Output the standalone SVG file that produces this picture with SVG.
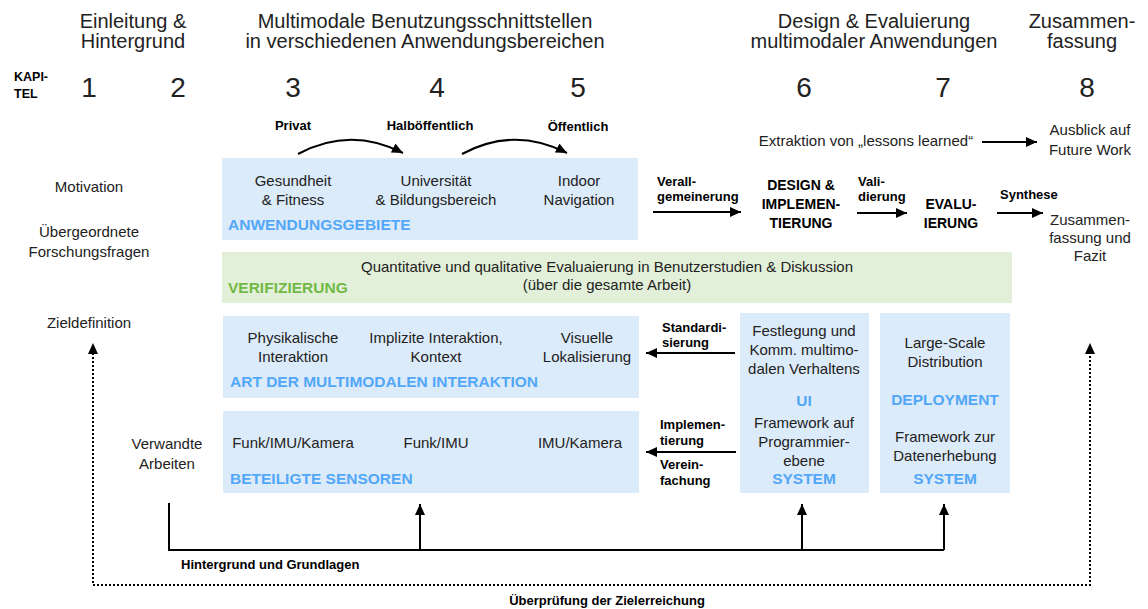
<svg xmlns="http://www.w3.org/2000/svg" width="1148" height="609" viewBox="0 0 1148 609">
<style>
text{font-family:"Liberation Sans",Arial,Helvetica,sans-serif;fill:#222}
.h{font-size:20px;text-anchor:middle}
.n{font-size:28px;text-anchor:middle}
.t{font-size:15px;text-anchor:middle}
.b{font-size:13px;font-weight:bold;fill:#000}
.bc{font-size:13px;font-weight:bold;fill:#000;text-anchor:middle}
.big{font-size:14px;font-weight:bold;fill:#000;text-anchor:middle}
.blue{font-size:15.5px;font-weight:bold;fill:#52a7f8}
.bluec{font-size:15.5px;font-weight:bold;fill:#52a7f8;text-anchor:middle}
.green{font-size:15.5px;font-weight:bold;fill:#72b845}
.box{fill:#dcebfa}
.gbox{fill:#e2f0d9}
.ln{stroke:#000;stroke-width:2;fill:none}
.dot{stroke:#000;stroke-width:2;fill:none;stroke-dasharray:2 2}
</style>
<defs>
<marker id="ah" markerUnits="userSpaceOnUse" markerWidth="11" markerHeight="10" refX="11" refY="5" orient="auto">
<path d="M0,0 L11,5 L0,10 z" fill="#000"/>
</marker>
</defs>

<g id="header">
<text class="h" x="133" y="28">Einleitung &amp;</text>
<text class="h" x="133" y="48">Hintergrund</text>
<text class="h" x="425" y="28">Multimodale Benutzungsschnittstellen</text>
<text class="h" x="425" y="48">in verschiedenen Anwendungsbereichen</text>
<text class="h" x="874" y="28">Design &amp; Evaluierung</text>
<text class="h" x="874" y="48">multimodaler Anwendungen</text>
<text class="h" x="1082" y="28">Zusammen-</text>
<text class="h" x="1082" y="48">fassung</text>
<text class="b" x="14" y="81" style="font-size:12.5px">KAPI-</text>
<text class="b" x="14" y="98" style="font-size:12.5px">TEL</text>
<text class="n" x="89" y="97">1</text>
<text class="n" x="178" y="97">2</text>
<text class="n" x="293" y="97">3</text>
<text class="n" x="437" y="97">4</text>
<text class="n" x="578" y="97">5</text>
<text class="n" x="804" y="97">6</text>
<text class="n" x="943" y="97">7</text>
<text class="n" x="1087" y="97">8</text>
</g>

<g id="left-labels">
<text class="t" x="89" y="192">Motivation</text>
<text class="t" x="89" y="237">Übergeordnete</text>
<text class="t" x="89" y="257">Forschungsfragen</text>
<text class="t" x="89" y="328">Zieldefinition</text>
<text class="t" x="167" y="449">Verwandte</text>
<text class="t" x="167" y="469">Arbeiten</text>
</g>

<g id="domain-labels">
<text class="bc" x="293" y="130">Privat</text>
<text class="bc" x="430" y="130">Halböffentlich</text>
<text class="bc" x="578" y="131">Öffentlich</text>
</g>

<g id="anwendungsgebiete">
<rect class="box" x="222" y="158" width="416" height="82"/>
<text class="t" x="293" y="186">Gesundheit</text>
<text class="t" x="293" y="205">&amp; Fitness</text>
<text class="t" x="436" y="186">Universität</text>
<text class="t" x="436" y="205">&amp; Bildungsbereich</text>
<text class="t" x="579" y="186">Indoor</text>
<text class="t" x="579" y="205">Navigation</text>
<text class="blue" x="228" y="230">ANWENDUNGSGEBIETE</text>
</g>

<g id="verifizierung">
<rect class="gbox" x="222" y="252" width="790" height="51"/>
<text class="t" x="607" y="272">Quantitative und qualitative Evaluaierung in Benutzerstudien &amp; Diskussion</text>
<text class="t" x="607" y="290">(über die gesamte Arbeit)</text>
<text class="green" x="228" y="293">VERIFIZIERUNG</text>
</g>

<g id="interaktion">
<rect class="box" x="223" y="316" width="416" height="82"/>
<text class="t" x="293" y="343">Physikalische</text>
<text class="t" x="293" y="362">Interaktion</text>
<text class="t" x="436" y="343">Implizite Interaktion,</text>
<text class="t" x="436" y="362">Kontext</text>
<text class="t" x="587" y="343">Visuelle</text>
<text class="t" x="587" y="362">Lokalisierung</text>
<text class="blue" x="230" y="387">ART DER MULTIMODALEN INTERAKTION</text>
</g>

<g id="sensoren">
<rect class="box" x="223" y="411" width="416" height="82"/>
<text class="t" x="293" y="448">Funk/IMU/Kamera</text>
<text class="t" x="436" y="448">Funk/IMU</text>
<text class="t" x="580" y="448">IMU/Kamera</text>
<text class="blue" x="230" y="484">BETEILIGTE SENSOREN</text>
</g>

<g id="ui-system">
<rect class="box" x="740" y="313" width="129" height="180"/>
<text class="t" x="804" y="336">Festlegung und</text>
<text class="t" x="804" y="355">Komm. multimo-</text>
<text class="t" x="804" y="374">dalen Verhaltens</text>
<text class="bluec" x="804" y="406">UI</text>
<text class="t" x="804" y="428">Framework auf</text>
<text class="t" x="804" y="447">Programmier-</text>
<text class="t" x="804" y="466">ebene</text>
<text class="bluec" x="804" y="484">SYSTEM</text>
</g>

<g id="deployment">
<rect class="box" x="880" y="313" width="130" height="180"/>
<text class="t" x="945" y="348">Large-Scale</text>
<text class="t" x="945" y="367">Distribution</text>
<text class="bluec" x="945" y="405">DEPLOYMENT</text>
<text class="t" x="945" y="442">Framework zur</text>
<text class="t" x="945" y="461">Datenerhebung</text>
<text class="bluec" x="945" y="484">SYSTEM</text>
</g>

<g id="design">
<text class="big" x="801" y="190">DESIGN &amp;</text>
<text class="big" x="801" y="209">IMPLEMEN-</text>
<text class="big" x="801" y="228">TIERUNG</text>
</g>

<g id="evaluierung">
<text class="big" x="951" y="209">EVALU-</text>
<text class="big" x="951" y="228">IERUNG</text>
</g>

<g id="outlook">
<text class="t" x="866" y="146">Extraktion von „lessons learned“</text>
<text class="t" x="1090" y="135">Ausblick auf</text>
<text class="t" x="1090" y="155">Future Work</text>
<text class="t" x="1090" y="225">Zusammen-</text>
<text class="t" x="1090" y="243">fassung und</text>
<text class="t" x="1090" y="261">Fazit</text>
</g>

<g id="connectors">
<path class="ln" d="M298,154 Q350,126 403,153" marker-end="url(#ah)"/>
<path class="ln" d="M462,154 Q514,126 567,153" marker-end="url(#ah)"/>
<line class="ln" x1="982" y1="142" x2="1037" y2="142" marker-end="url(#ah)"/>
<line class="ln" x1="653" y1="212" x2="741" y2="212" marker-end="url(#ah)"/>
<line class="ln" x1="857" y1="213" x2="907" y2="213" marker-end="url(#ah)"/>
<line class="ln" x1="997" y1="213" x2="1043" y2="213" marker-end="url(#ah)"/>
<line class="ln" x1="735" y1="353" x2="646" y2="353" marker-end="url(#ah)"/>
<line class="ln" x1="736" y1="452" x2="646" y2="452" marker-end="url(#ah)"/>
<polyline class="ln" points="169,503 169,550 944,550"/>
<line class="ln" x1="420" y1="550" x2="420" y2="504" marker-end="url(#ah)"/>
<line class="ln" x1="802" y1="550" x2="802" y2="504" marker-end="url(#ah)"/>
<line class="ln" x1="944" y1="550" x2="944" y2="504" marker-end="url(#ah)"/>
<polyline class="dot" points="93,353 93,585 1090,585 1090,353"/>
<path d="M93,343 L98,354 L88,354 z" fill="#000"/>
<path d="M1090,343 L1095,354 L1085,354 z" fill="#000"/>
</g>

<g id="connector-labels">
<text class="b" x="657" y="186">Verall-</text>
<text class="b" x="657" y="201">gemeinerung</text>
<text class="b" x="858" y="186">Vali-</text>
<text class="b" x="858" y="201">dierung</text>
<text class="b" x="1000" y="199">Synthese</text>
<text class="b" x="662" y="332">Standardi-</text>
<text class="b" x="662" y="347">sierung</text>
<text class="b" x="660" y="429">Implemen-</text>
<text class="b" x="660" y="445">tierung</text>
<text class="b" x="660" y="469">Verein-</text>
<text class="b" x="660" y="485">fachung</text>
<text class="b" x="181" y="569">Hintergrund und Grundlagen</text>
<text class="bc" x="607" y="605">Überprüfung der Zielerreichung</text>
</g>
</svg>
